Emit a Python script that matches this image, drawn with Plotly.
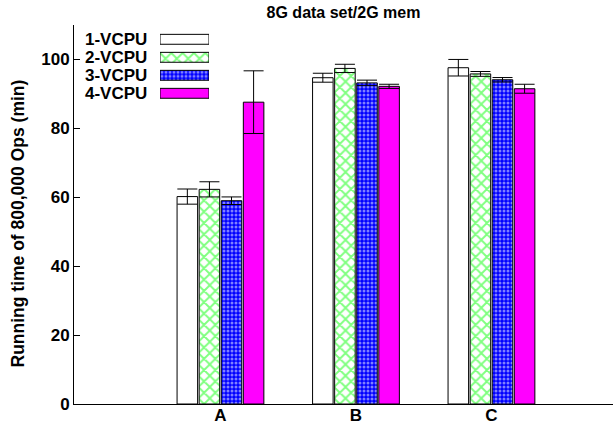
import plotly.graph_objects as go

# ---- data ----
categories = ["A", "B", "C"]
series_names = ["1-VCPU", "2-VCPU", "3-VCPU", "4-VCPU"]
vals_1 = [60.2, 94.7, 97.6]
err_1 = [2.2, 1.3, 2.4]
vals_2 = [62.3, 97.4, 95.8]
err_2 = [2.2, 1.2, 0.7]
vals_3 = [59.0, 93.2, 94.1]
err_3 = [1.1, 0.8, 0.65]
vals_4 = [87.6, 92.2, 91.5]
err_4 = [9.1, 0.6, 1.3]
y_ticks = [0, 20, 40, 60, 80, 100]

values = [vals_1, vals_2, vals_3, vals_4]
errors = [err_1, err_2, err_3, err_4]

fills = [
    dict(color="white", pattern=dict(shape="")),
    dict(color="#00ff00", pattern=dict(shape="x", bgcolor="white", fgcolor="#00ff00", size=8, solidity=0.42)),
    dict(color="#0000ff", pattern=dict(shape=".", bgcolor="#0000ff", fgcolor="white", size=4, solidity=0.45)),
    dict(color="#ff00ff", pattern=dict(shape="")),
]

W, H = 613, 423
L, R, T, B = 74, 0, 25, 19
pw, ph = W - L - R, H - T - B

fig = go.Figure()
for name, v, e, f in zip(series_names, values, errors, fills):
    fig.add_trace(go.Bar(
        x=categories, y=v, name=name, showlegend=False,
        marker=dict(color=f["color"], pattern=f["pattern"], line=dict(color="black", width=1)),
        error_y=dict(type="data", array=e, color="black", thickness=1, width=10),
    ))

# custom legend (text left of swatch) drawn as a small horizontal bar chart
for name, f in zip(series_names, fills):
    fig.add_trace(go.Bar(
        x=[1], y=[name], orientation="h", width=0.55, offsetgroup="legend",
        xaxis="x3", yaxis="y3", showlegend=False, hoverinfo="skip",
        marker=dict(color=f["color"], pattern=f["pattern"], line=dict(color="black", width=1)),
    ))
    fig.add_annotation(text=name, xref="paper", yref="y3", x=(149 - L) / pw, y=name,
                       xanchor="right", yanchor="middle", showarrow=False,
                       font=dict(size=17, weight="bold"))

fig.add_annotation(text="Running time of 800,000 Ops (min)", xref="paper", yref="paper",
                   x=(17 - L) / pw, y=(404 - 223.5) / ph, textangle=-90,
                   xanchor="center", yanchor="middle", showarrow=False,
                   font=dict(size=17.5, weight="bold"))

xr = [-1.081, 2.897]
fig.update_layout(
    width=W, height=H,
    margin=dict(l=L, r=R, t=T, b=B, autoexpand=False),
    paper_bgcolor="white", plot_bgcolor="white",
    font=dict(family="Liberation Sans, Arial, sans-serif", size=16, color="black", weight="bold"),
    barmode="group", bargap=0.348, bargroupgap=0.07,
    title=dict(text="8G data set/2G mem", x=(L + pw / 2) / W, xanchor="center",
               y=1 - 12 / H, yanchor="middle", yref="container",
               font=dict(size=16, weight="bold")),
    xaxis=dict(range=xr, tickvals=categories, ticktext=categories, ticks="", showline=True,
               linecolor="black", linewidth=1, showgrid=False, zeroline=False,
               ticklabelstandoff=-4, tickfont=dict(size=17, weight="bold")),
    xaxis2=dict(overlaying="x", side="top", anchor="y", range=xr, tickmode="array",
                tickvals=[-0.0775, 0.9225, 1.9225], showticklabels=False, ticks="inside",
                ticklen=6, tickcolor="black", showline=True, linecolor="black", linewidth=1,
                showgrid=False, zeroline=False),
    yaxis=dict(range=[0, 110], tickvals=y_ticks, ticks="inside", ticklen=6, tickcolor="black",
               showline=True, linecolor="black", linewidth=1, showgrid=False, zeroline=False,
               tickfont=dict(size=17, weight="bold")),
    yaxis2=dict(overlaying="y", side="right", anchor="x", range=[0, 110], tickvals=y_ticks,
                showticklabels=False, ticks="inside", ticklen=6, tickcolor="black",
                showline=False, showgrid=False, zeroline=False),
    xaxis3=dict(domain=[(160 - L) / pw, (209 - L) / pw], anchor="y3", range=[0, 1],
                visible=False, fixedrange=True),
    yaxis3=dict(domain=[(404 - 102.3) / ph, (404 - 30.3) / ph], anchor="x3",
                range=[3.5, -0.5], visible=False, fixedrange=True),
)

fig.write_html("out.html", config={"displayModeBar": False},
               post_script="document.body.style.margin='0';")
